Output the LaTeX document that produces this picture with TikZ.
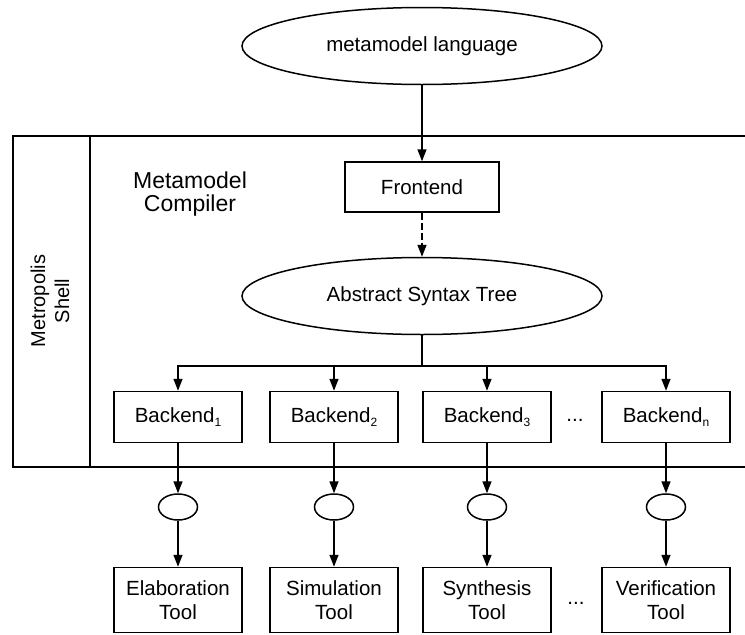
\documentclass[tikz,border=0pt]{standalone}
\usepackage{fontspec}
\setmainfont{Liberation Sans}
\usetikzlibrary{arrows.meta,positioning,shapes.geometric}
\newcommand{\bsub}[1]{\raisebox{-0.35ex}{\fontsize{12}{12}\selectfont #1}}

\begin{document}
\begin{tikzpicture}[x=1pt, y=-1pt, line width=1.5pt,
    every node/.style={font=\fontsize{20.5}{24}\selectfont},
    blk/.style={draw, rectangle, minimum width=128pt, minimum height=51pt, inner sep=0pt},
    toolbox/.style={draw, rectangle, minimum width=128pt, minimum height=65pt, inner sep=0pt, align=center},
    big/.style={draw, ellipse, minimum width=360pt, minimum height=77pt, inner sep=0pt},
    port/.style={draw, ellipse, minimum width=39pt, minimum height=26pt, inner sep=0pt},
    arr/.style={-{Triangle[length=12pt,width=9pt]}}]
      \useasboundingbox (0,0) rectangle (745,635);
      % Metropolis shell frame
      \draw[line width=2.5pt] (745,136) -- (13,136) -- (13,467) -- (745,467);
      \draw[line width=2.5pt] (90,136) -- (90,467);
      \node[rotate=90, align=center, font=\fontsize{20}{24}\selectfont] (shell) at (50,301) {Metropolis\\Shell};
      \node[align=center, font=\fontsize{23}{23}\selectfont] (mmc) at (190,194) {Metamodel\\Compiler};
      % compiler chain
      \node[big] (lang) at (422,46) {metamodel language};
      \node[blk, minimum width=154pt, minimum height=50pt] (front) at (422,187) {Frontend};
      \node[big] (ast) at (422,296) {Abstract Syntax Tree};
      \coordinate (split) at (422,366);
      \draw[arr] (lang) -- (front);
      \draw[arr, dash pattern=on 7pt off 3pt] (front) -- (ast);
      \draw (ast) -- (split);
      % backends, ports and tools
      \foreach \x/\s/\t [count=\i] in {178/1/Elaboration, 334/2/Simulation, 487/3/Synthesis, 666/n/Verification} {
        \node[blk] (b\i) at (\x,417) {Backend\bsub{\s}};
        \node[port] (p\i) at (\x,507) {};
        \node[toolbox] (t\i) at (\x,600) {\t\\Tool};
        \draw[arr] (split) -| (b\i);
        \draw[arr] (b\i) -- (p\i);
        \draw[arr] (p\i) -- (t\i);
      }
      \node (bdots) at (575,420) {...};
      \node (tdots) at (576,603) {...};
\end{tikzpicture}
\end{document}
